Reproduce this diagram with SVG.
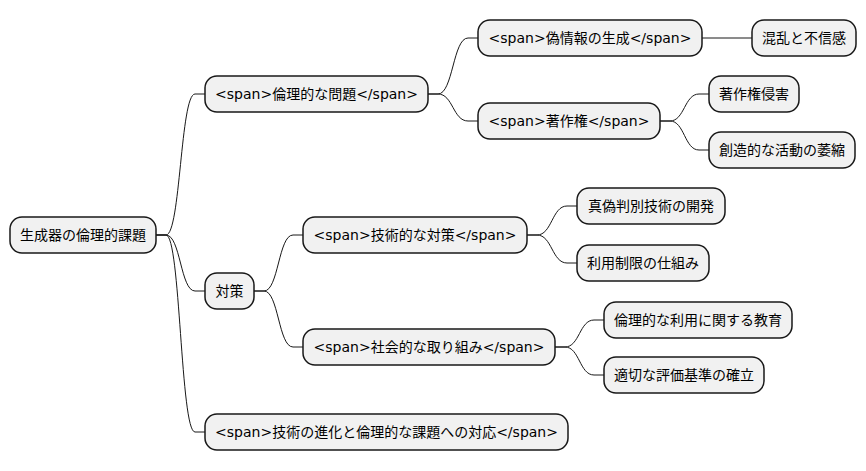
<svg xmlns="http://www.w3.org/2000/svg" width="866" height="471" viewBox="0 0 866 471">
<style>
.n rect{fill:#F1F1F1;stroke:#181818;stroke-width:1.5}
.n text{font-family:"DejaVu Sans","Noto Sans CJK JP",sans-serif;font-size:14px;fill:#000;text-anchor:middle}
#edges path{fill:none;stroke:#181818;stroke-width:1}
</style>
<rect width="866" height="471" fill="#FFFFFF"/>
<g id="edges">
<path d="M156,235 H166 C180.5,235 180.5,94 195,94 H205"/>
<path d="M156,235 H166 C180.5,235 180.5,291 195,291 H205"/>
<path d="M156,235 H166 C180.5,235 180.5,432 195,432 H205"/>
<path d="M428,94 H438 C453,94 453,38 468,38 H478"/>
<path d="M428,94 H438 C453,94 453,121 468,121 H478"/>
<path d="M702,38 H752"/>
<path d="M660,121 H670 C684.5,121 684.5,94 699,94 H709"/>
<path d="M660,121 H670 C684.5,121 684.5,150 699,150 H709"/>
<path d="M254,291 H264 C278.5,291 278.5,235 293,235 H303"/>
<path d="M254,291 H264 C278.5,291 278.5,347 293,347 H303"/>
<path d="M527,235 H537 C552,235 552,206 567,206 H577"/>
<path d="M527,235 H537 C552,235 552,263 567,263 H577"/>
<path d="M555,347 H565 C579.5,347 579.5,320 594,320 H604"/>
<path d="M555,347 H565 C579.5,347 579.5,375 594,375 H604"/>
</g>
<g id="root" class="n"><rect x="10" y="217" width="146" height="36" rx="12"/><text x="83" y="240">生成器の倫理的課題</text></g>
<g id="n1" class="n"><rect x="205" y="76" width="223" height="36" rx="12"/><text x="316.5" y="99">&lt;span&gt;倫理的な問題&lt;/span&gt;</text></g>
<g id="n11" class="n"><rect x="478" y="20" width="224" height="36" rx="12"/><text x="590" y="43">&lt;span&gt;偽情報の生成&lt;/span&gt;</text></g>
<g id="n111" class="n"><rect x="752" y="20" width="104" height="36" rx="12"/><text x="804" y="43">混乱と不信感</text></g>
<g id="n12" class="n"><rect x="478" y="103" width="182" height="36" rx="12"/><text x="569" y="126">&lt;span&gt;著作権&lt;/span&gt;</text></g>
<g id="n121" class="n"><rect x="709" y="76" width="90" height="36" rx="12"/><text x="754" y="99">著作権侵害</text></g>
<g id="n122" class="n"><rect x="709" y="132" width="146" height="36" rx="12"/><text x="782" y="155">創造的な活動の萎縮</text></g>
<g id="n2" class="n"><rect x="205" y="273" width="49" height="36" rx="12"/><text x="229.5" y="296">対策</text></g>
<g id="n21" class="n"><rect x="303" y="217" width="224" height="36" rx="12"/><text x="415" y="240">&lt;span&gt;技術的な対策&lt;/span&gt;</text></g>
<g id="n211" class="n"><rect x="577" y="188" width="148" height="36" rx="12"/><text x="651" y="211">真偽判別技術の開発</text></g>
<g id="n212" class="n"><rect x="577" y="245" width="132" height="36" rx="12"/><text x="643" y="268">利用制限の仕組み</text></g>
<g id="n22" class="n"><rect x="303" y="329" width="252" height="36" rx="12"/><text x="429" y="352">&lt;span&gt;社会的な取り組み&lt;/span&gt;</text></g>
<g id="n221" class="n"><rect x="604" y="302" width="188" height="36" rx="12"/><text x="698" y="325">倫理的な利用に関する教育</text></g>
<g id="n222" class="n"><rect x="604" y="357" width="160" height="36" rx="12"/><text x="684" y="380">適切な評価基準の確立</text></g>
<g id="n3" class="n"><rect x="205" y="414" width="363" height="36" rx="12"/><text x="386.5" y="437">&lt;span&gt;技術の進化と倫理的な課題への対応&lt;/span&gt;</text></g>
</svg>
